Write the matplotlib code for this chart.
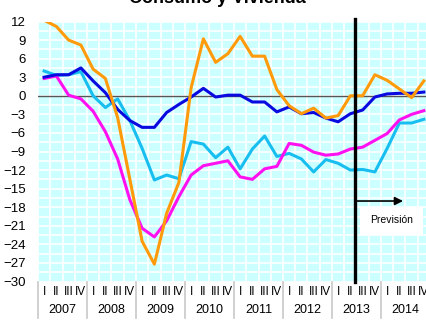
import matplotlib.pyplot as plt
import matplotlib.transforms as mtransforms
from matplotlib.ticker import MultipleLocator

plt.rcParams['font.family'] = ['Liberation Sans', 'DejaVu Sans']

# Quarterly series, 2007 Q1 - 2014 Q4
years = ['2007', '2008', '2009', '2010', '2011', '2012', '2013', '2014']
quarters = ['I', 'II', 'III', 'IV']

vivienda = [12.2, 11.2, 9.0, 8.2, 4.3, 2.8, -3.5, -13.5, -23.5, -27.2, -19.0, -14.0,
            1.3, 9.2, 5.4, 6.8, 9.6, 6.4, 6.4, 1.0, -1.6, -2.9, -2.0, -3.6,
            -3.2, 0.0, 0.0, 3.4, 2.5, 1.1, -0.3, 2.4]
consumo = [3.0, 3.4, 3.4, 4.5, 2.4, 0.5, -2.2, -4.0, -5.1, -5.1, -2.7, -1.4,
           -0.2, 1.2, -0.2, 0.1, 0.1, -1.0, -1.0, -2.6, -1.8, -2.9, -2.7, -3.6,
           -4.2, -2.9, -2.3, -0.2, 0.3, 0.4, 0.4, 0.6]
duraderos = [4.0, 3.3, 3.4, 3.9, 0.0, -1.9, -0.5, -4.0, -8.5, -13.6, -12.8, -13.4,
             -7.4, -7.8, -10.0, -8.3, -11.8, -8.6, -6.5, -9.8, -9.3, -10.2, -12.3, -10.3,
             -10.9, -12.0, -11.9, -12.3, -8.5, -4.4, -4.4, -3.8]
confianza = [2.8, 3.2, 0.1, -0.5, -2.5, -5.8, -10.2, -16.8, -21.4, -22.8, -20.2, -16.3,
             -12.8, -11.3, -10.9, -10.5, -13.1, -13.5, -11.8, -11.4, -7.7, -8.0, -9.1, -9.6,
             -9.4, -8.6, -8.3, -7.2, -6.1, -3.9, -3.0, -2.4]

forecast_start = 25.4

fig = plt.figure(figsize=(4.26, 3.24), dpi=100)
ax = fig.add_axes([38 / 426, 42.5 / 324, 392 / 426, 260 / 324])
ax.set_facecolor('#CCFFFF')

x = list(range(len(consumo)))
ax.plot(x, duraderos, color='#19BEF0', lw=2.2, zorder=3)
ax.plot(x, confianza, color='#FF10F0', lw=2.2, zorder=3)
ax.plot(x, consumo, color='#0A0AE0', lw=2.2, zorder=4)
ax.plot(x, vivienda, color='#FF9A0A', lw=2.2, zorder=5)

ax.set_xlim(-0.5, 31.5)
ax.set_ylim(-30, 12)
ax.yaxis.set_major_locator(MultipleLocator(3))
ax.yaxis.set_minor_locator(MultipleLocator(1.5))
ax.xaxis.set_minor_locator(MultipleLocator(1, offset=0.5))
ax.set_xticks([])
ax.grid(which='minor', color='white', lw=1.2)
ax.grid(which='major', axis='y', color='white', lw=1.2)
ax.tick_params(axis='y', length=0, pad=9, labelsize=9.5)
ax.tick_params(which='minor', length=0)
for s in ax.spines.values():
    s.set_visible(False)
ax.axhline(0, color='#555555', lw=1.0, zorder=2)

# forecast marker
ax.axvline(forecast_start, ymin=0, ymax=1.01, color='black', lw=2.4, zorder=6, clip_on=False)
ax.annotate('', xy=(29.3, -17.0), xytext=(forecast_start, -17.0),
            arrowprops=dict(arrowstyle='-|>', color='black', lw=1.2,
                            mutation_scale=12, shrinkA=0, shrinkB=0), zorder=6)
ax.add_patch(plt.Rectangle((25.8, -22.5), 5.1, 4.5, facecolor='white',
                           edgecolor='none', zorder=6))
ax.text(28.35, -20.0, 'Previsión', ha='center', va='center', fontsize=7.5, zorder=7)

# quarter / year category labels
trans = mtransforms.blended_transform_factory(ax.transData, ax.transAxes)
for k, yr in enumerate(years):
    start = 4 * k - 0.5
    ax.plot([start, start], [0, -0.14], color='#C8C8C8', lw=1.2,
            transform=trans, clip_on=False)
    for q, lab in enumerate(quarters):
        ax.text(4 * k + q, -0.04, lab, ha='center', va='center', fontsize=8.5,
                transform=trans, clip_on=False)
    ax.text(4 * k + 1.5, -0.11, yr, ha='center', va='center', fontsize=9,
            transform=trans, clip_on=False)

fig.text(0.51, 1 - 3 / 324, 'Consumo y Vivienda', ha='center', va='baseline',
         fontsize=13, fontweight='bold')

fig.savefig('out.png', dpi=100)
